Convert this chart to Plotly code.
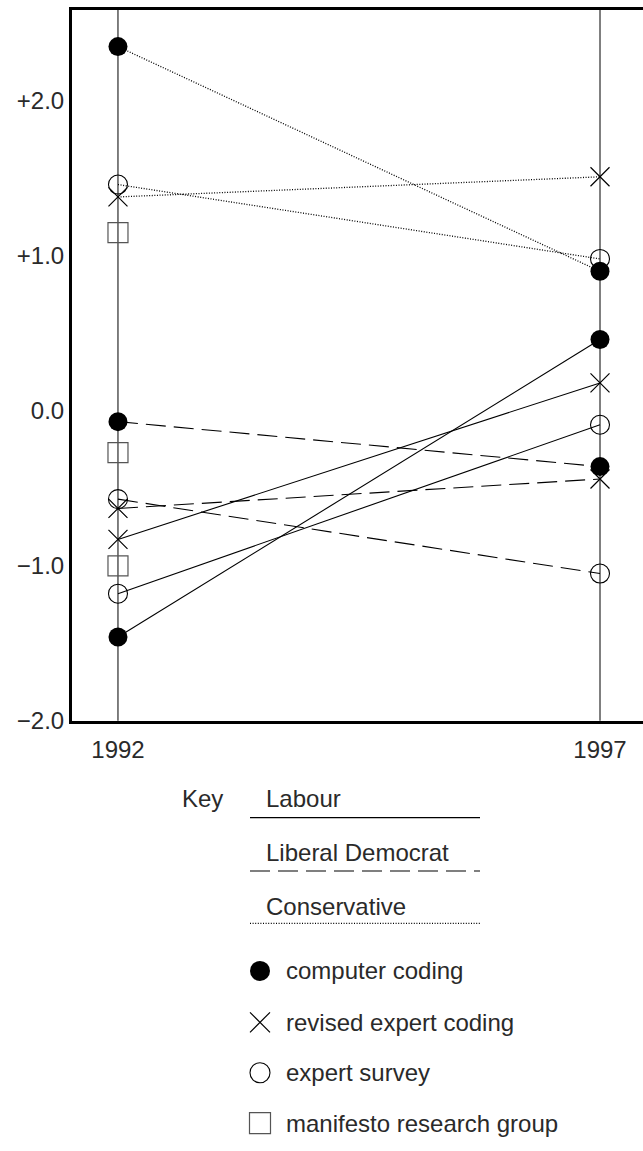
import plotly.graph_objects as go

# ---------------- data ----------------
years = [1992, 1997]

parties = ["Labour", "Liberal Democrat", "Conservative"]
methods = ["computer coding", "revised expert coding", "expert survey", "manifesto research group"]

# values [1992, 1997]; None = no estimate
labour_computer = [-1.46, 0.46]
labour_revised = [-0.83, 0.18]
labour_survey = [-1.18, -0.09]
labour_mrg = [-1.00, None]

libdem_computer = [-0.07, -0.36]
libdem_revised = [-0.63, -0.44]
libdem_survey = [-0.57, -1.05]
libdem_mrg = [-0.27, None]

con_computer = [2.35, 0.90]
con_revised = [1.38, 1.51]
con_survey = [1.46, 0.98]
con_mrg = [1.15, None]

ytick_vals = [2, 1, 0, -1, -2]
ytick_text = ["+2.0", "+1.0", "0.0", "\u22121.0", "\u22122.0"]
xtick_text = ["1992", "1997"]

# ---------------- styles ----------------
FONT = "Liberation Sans, Arial, Helvetica, sans-serif"
TXT = "#2a2a2a"
FS = 24
W, H = 643, 1151

party_dash = {
    "Labour": "solid",
    "Liberal Democrat": "20px,8px",
    "Conservative": "1px,1.6px",
}
method_marker = {
    "computer coding": dict(symbol="circle", size=19, color="black", line=dict(width=0, color="black")),
    "revised expert coding": dict(symbol="x-thin-open", size=19, color="black", line=dict(width=1.2, color="black")),
    "expert survey": dict(symbol="circle-open", size=19, color="black", line=dict(width=1.1, color="black")),
    "manifesto research group": dict(symbol="square-open", size=20, color="#555", line=dict(width=1.2, color="#555")),
}

data = {
    "Labour": [labour_computer, labour_revised, labour_survey, labour_mrg],
    "Liberal Democrat": [libdem_computer, libdem_revised, libdem_survey, libdem_mrg],
    "Conservative": [con_computer, con_revised, con_survey, con_mrg],
}

fig = go.Figure()

# connecting lines
for p in parties:
    for m, vals in zip(methods, data[p]):
        if all(v is not None for v in vals):
            fig.add_trace(go.Scatter(
                x=years, y=vals, mode="lines",
                line=dict(color="black", width=1.1 if p != "Conservative" else 1.3, dash=party_dash[p]),
                showlegend=False, hoverinfo="skip"))

# markers on top
for p in parties:
    for m, vals in zip(methods, data[p]):
        xs = [yr for yr, v in zip(years, vals) if v is not None]
        ys = [v for v in vals if v is not None]
        fig.add_trace(go.Scatter(
            x=xs, y=ys, mode="markers", marker=method_marker[m],
            name=f"{p} - {m}", showlegend=False))

# vertical year lines
for yr in years:
    fig.add_vline(x=yr, line=dict(color="black", width=1), layer="below")

# ---------------- key (pixel-space overlay axis, y measured from top) ----------------
key_x0, key_x1 = 250, 480
key_text_x = 264
party_text_y = [808, 862, 917]
party_line_y = [827, 881, 934]
method_y = [982, 1034, 1085, 1136]
marker_x = 260
method_text_x = 284

fig.add_annotation(x=180, y=808, xref="x2", yref="y2", text="Key", showarrow=False,
                   xanchor="left", yanchor="middle", font=dict(size=FS, color=TXT, family=FONT))
for p, ty, ly in zip(parties, party_text_y, party_line_y):
    fig.add_annotation(x=key_text_x, y=ty, xref="x2", yref="y2", text=p, showarrow=False,
                       xanchor="left", yanchor="middle", font=dict(size=FS, color=TXT, family=FONT))
    fig.add_trace(go.Scatter(x=[key_x0, key_x1], y=[ly, ly], xaxis="x2", yaxis="y2", mode="lines",
                             line=dict(color="black", width=1.1 if p != "Conservative" else 1.3,
                                       dash=party_dash[p]),
                             showlegend=False, hoverinfo="skip"))
for m, my in zip(methods, method_y):
    mk = dict(method_marker[m])
    mk["size"] = mk["size"] + 1
    fig.add_trace(go.Scatter(x=[marker_x], y=[my], xaxis="x2", yaxis="y2", mode="markers",
                             marker=mk, showlegend=False, hoverinfo="skip"))
    fig.add_annotation(x=method_text_x, y=my, xref="x2", yref="y2", text=m, showarrow=False,
                       xanchor="left", yanchor="middle", font=dict(size=FS, color=TXT, family=FONT))

# ---------------- layout ----------------
fig.update_layout(
    width=W, height=H,
    margin=dict(l=0, r=0, t=0, b=0),
    paper_bgcolor="white", plot_bgcolor="rgba(0,0,0,0)",
    font=dict(family=FONT, size=FS, color=TXT),
    xaxis=dict(domain=[72 / W, 1.0], range=[1991.523, 1997.446],
               tickvals=years, ticktext=xtick_text, showgrid=False, zeroline=False,
               showline=True, linewidth=3, linecolor="black", mirror=True,
               ticks="", tickfont=dict(size=FS, color=TXT), ticklabelstandoff=5),
    yaxis=dict(domain=[(H - 729) / H, (H - 10) / H], range=[-2.0, 2.587],
               tickvals=ytick_vals, ticktext=ytick_text, showgrid=False, zeroline=False,
               showline=True, linewidth=3, linecolor="black",
               ticks="", tickfont=dict(size=FS, color=TXT), ticklabelstandoff=0),
    xaxis2=dict(domain=[0, 1], range=[0, W], visible=False, anchor="y2", fixedrange=True),
    yaxis2=dict(domain=[0, 1], range=[H, 0], visible=False, anchor="x2", fixedrange=True),
)

fig.write_html(
    "out.html",
    config={"displayModeBar": False},
    post_script="document.body.style.margin='0';document.body.style.overflow='hidden';",
)
